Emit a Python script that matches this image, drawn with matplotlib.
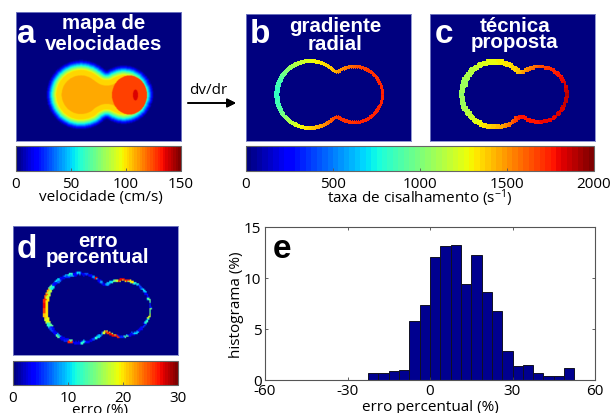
import numpy as np
import matplotlib
matplotlib.use("Agg")
import matplotlib.pyplot as plt
from matplotlib.cm import ScalarMappable
from matplotlib.colors import Normalize

W, H = 611, 414
plt.rcParams['font.family'] = ['Open Sans', 'DejaVu Sans']
plt.rcParams['mathtext.default'] = 'regular'
plt.rcParams['font.size'] = 11

# histogram (panel e)
hist_left = [-22.5, -18.75, -15, -11.25, -7.5, -3.75, 0, 3.75, 7.5, 11.25, 15, 18.75,
             22.5, 26.25, 30, 33.75, 37.5, 41.25, 45, 48.75]
hist_vals = [0.7, 0.7, 0.85, 1.0, 5.8, 7.4, 12.1, 13.1, 13.25, 9.4, 12.25, 8.6,
             6.8, 2.8, 1.35, 1.5, 0.7, 0.35, 0.35, 1.15]
hist_xticks = [-60, -30, 0, 30, 60]
hist_xlabels = ['-60', '-30', '0', '30', '60']
hist_yticks = [0, 5, 10, 15]

# velocity against distance from the wall (panel a)
wall_dist = [0, 1, 3, 5, 7, 9, 10, 15, 15.5, 60]
wall_vel = [0, 10, 30, 50, 72, 90, 101, 101, 110, 110]
jet_vel_red = 126
jet_vel_peak = 136

# shear along the wall, clockwise from the left side of the vessel
turn_pos = [0, 0.04, 0.08, 0.13, 0.2, 0.3, 0.4, 0.5, 0.6, 0.7, 0.8, 0.87, 0.92, 0.96, 1]
shear_b = [820, 860, 1000, 1150, 1300, 1430, 1680, 1750, 1730, 1680, 1420, 1250, 1040, 880, 820]
shear_c = [1060, 1080, 1130, 1230, 1300, 1400, 1700, 1880, 1790, 1750, 1450, 1320, 1180, 1090, 1060]
ring_b = [4.6, 4.6, 4.2, 3.8, 3.4, 3.0, 3.0, 3.0, 3.0, 3.0, 3.2, 3.6, 4.0, 4.4, 4.6]
ring_c = [6.0, 6.0, 5.6, 5.0, 4.4, 3.8, 3.6, 3.6, 3.6, 3.6, 4.0, 4.6, 5.2, 5.8, 6.0]
ring_d = [4.2, 4.2, 4.0, 3.2, 2.6, 2.4, 2.4, 2.6, 2.6, 2.4, 2.6, 3.0, 3.6, 4.0, 4.2]

# error along the wall, same direction, outer and inner edge of the ring
err_outer = [27, 26, 24, 22, 14, 5, 10, 3, 8, 12, 4, 10, 3, 6, 4, 8, 27, 4, 8, 3, 9, 10, 17, 27,
             26, 20, 12, 6, 10, 4, 14, 5, 14, 17, 12, 6, 4, 10, 3, 14, 5, 26, 27, 25, 18, 8, 10, 12,
             6, 3, 4, 12, 3, 4, 26, 5, 3, 14, 4, 6, 12, 18, 21, 25]
err_inner = [20, 20, 18, 17, 11, 4, 7, 3, 5, 8, 3, 7, 3, 4, 3, 5, 12, 3, 5, 3, 6, 7, 12, 18,
             18, 14, 8, 4, 7, 3, 9, 4, 16, 19, 9, 4, 3, 7, 3, 9, 4, 16, 18, 17, 12, 6, 7, 8,
             4, 3, 3, 8, 3, 3, 14, 4, 3, 9, 3, 4, 14, 19, 20, 20]

# lobes of the vessel, in pixels of each panel: left x, left r, right x, right r, mid y
lobes_a = (65, 35, 107.8, 29.7, 82.7)
lobes_b = (63.8, 35.5, 108.3, 29.7, 80.5)
lobes_c = (64.5, 35.5, 109, 29.7, 80.5)
lobes_d = (65.5, 36, 109, 29.5, 82)


def px_axes(x0, y0, x1, y1):
    return fig.add_axes([x0/W, 1-y1/H, (x1-x0)/W, (y1-y0)/H])


def wall_field(lobes, w, h, step):
    x1, r1, x2, r2, yc = lobes
    xx, yy = np.meshgrid(np.arange(step/2, w, step), np.arange(step/2, h, step))
    d1 = np.hypot(xx-x1, yy-yc)-r1
    d2 = np.hypot(xx-x2, yy-yc)-r2
    # soft min so the neck gets a rounded edge
    k = 3.0
    t = np.clip(0.5+0.5*(d2-d1)/k, 0, 1)
    f = d2*(1-t)+d1*t-k*t*(1-t)
    # real distance inside the union, min(d1,d2) is wrong near the neck
    near = np.abs(f) < max(step, 0.5)
    bx, by = xx[near][::2], yy[near][::2]
    dist = np.zeros(f.shape)
    for i in range(f.shape[0]):
        dist[i] = np.min(np.hypot(xx[i][:, None]-bx, yy[i][:, None]-by), axis=1)
    dist[f > 0] = -1
    # fraction of a clockwise turn starting from the left
    xc = (x1+x2)/2-5
    pos = (np.arctan2(-(yy-yc), -(xx-xc)))/(2*np.pi) % 1
    return xx, yy, dist, pos


def panel(x0, y0, x1, y1, img, lo, hi, interp='nearest'):
    ax = px_axes(x0, y0, x1, y1)
    ax.imshow(img, cmap=jet, vmin=lo, vmax=hi, extent=[0, x1-x0, y1-y0, 0],
              aspect='auto', interpolation=interp)
    ax.set_xticks([])
    ax.set_yticks([])
    for s in ax.spines.values():
        s.set_color('#7f86c8')
        s.set_linewidth(0.6)
    return ax


def titles(ax, letter, lx, ly, line1, cx1, y1, line2, cx2, y2):
    ax.text(lx, ly, letter, color='w', family='Liberation Sans', weight='bold', fontsize=24,
            ha='center', va='baseline')
    ax.text(cx1, y1, line1, color='w', family='Liberation Sans', weight='bold', fontsize=14.8,
            ha='center', va='baseline')
    ax.text(cx2, y2, line2, color='w', family='Liberation Sans', weight='bold', fontsize=14.8,
            ha='center', va='baseline')


def cbar(x0, y0, x1, y1, lo, hi, ticks, label, lx, ly):
    cax = px_axes(x0, y0, x1, y1)
    cb = fig.colorbar(ScalarMappable(Normalize(lo, hi), jet), cax=cax, orientation='horizontal')
    cb.set_ticks(ticks)
    cb.ax.tick_params(direction='in', length=2, width=0.6, color='#555555', pad=3.5, labelsize=11)
    cb.outline.set_edgecolor('#666666')
    cb.outline.set_linewidth(0.8)
    fig.text(lx/W, 1-ly/H, label, ha='center', va='center', fontsize=11)


jet = plt.get_cmap('jet', 64)
fig = plt.figure(figsize=(W/100, H/100), dpi=100)

# a - velocity map
xx, yy, dist, pos = wall_field(lobes_a, 166, 129, 0.5)
vel = np.interp(dist, wall_dist, wall_vel)
vel[((xx-113.5)/17.5)**2+((yy-83)/19.5)**2 < 1] = jet_vel_red
vel[((xx-119.5)/2.5)**2+((yy-83)/5.5)**2 < 1] = jet_vel_peak
vel[dist < 0] = 0
ax = panel(15.5, 13, 181, 142, vel, 0, 150, 'bilinear')
titles(ax, 'a', 11, 30, 'mapa de', 88, 16, 'velocidades', 88, 37)
cbar(15.5, 147, 181, 172, 0, 150, [0, 50, 100, 150], 'velocidade (cm/s)', 101, 198)

# b - radial gradient
xx, yy, dist, pos = wall_field(lobes_b, 165, 127, 1.0)
img = np.interp(pos, turn_pos, shear_b)
img[(dist < 0) | (dist > np.interp(pos, turn_pos, ring_b))] = 0
ax = panel(246, 15, 411, 142, img, 0, 2000, 'bilinear')
titles(ax, 'b', 14, 28, 'gradiente', 89, 17, 'radial', 89, 35)

# c - proposed technique, coarser pixels
xx, yy, dist, pos = wall_field(lobes_c, 165, 127, 1.3)
img = np.interp(pos, turn_pos, shear_c)
img[(dist < 0) | (dist > np.interp(pos, turn_pos, ring_c))] = 0
ax = panel(430, 15, 595, 142, img, 0, 2000)
titles(ax, 'c', 14, 28, 't\u00e9cnica', 85, 17, 'proposta', 85, 33)
cbar(246, 147, 594, 172, 0, 2000, [0, 500, 1000, 1500, 2000],
     'taxa de cisalhamento (s$^{-1}$)', 420, 198)

# d - percent error
xx, yy, dist, pos = wall_field(lobes_d, 165, 129, 1.3)
idx = (pos*len(err_outer)).astype(int) % len(err_outer)
img = np.where(dist < 1.6, np.array(err_outer)[idx], np.array(err_inner)[idx]).astype(float)
img[(dist < 0) | (dist > np.interp(pos, turn_pos, ring_d))] = 0
ax = panel(13, 227, 178, 356, img, 0, 30, 'bilinear')
titles(ax, 'd', 14, 31, 'erro', 85, 20, 'percentual', 85, 36)
cbar(13, 362, 178, 386, 0, 30, [0, 10, 20, 30], 'erro (%)', 100, 411)

# e - histogram
ax = px_axes(265, 228, 595, 381)
ax.bar(hist_left, hist_vals, width=3.75, align='edge', color='#00008f', edgecolor='#111122', linewidth=0.7)
ax.set_xlim(-60, 60)
ax.set_ylim(0, 15)
ax.set_xticks(hist_xticks, hist_xlabels)
ax.set_yticks(hist_yticks)
ax.tick_params(direction='in', length=2.5, width=0.6, top=True, right=True, pad=2.5, labelsize=11, color='#444444')
for s in ax.spines.values():
    s.set_color('#555555')
    s.set_linewidth(0.8)
fig.text(282/W, 1-258/H, 'e', family='Liberation Sans', weight='bold', fontsize=24, ha='center', va='baseline')
fig.text(430/W, 1-408/H, 'erro percentual (%)', ha='center', va='center', fontsize=11)
fig.text(237/W, 1-305/H, 'histograma (%)', ha='center', va='center', rotation=90, fontsize=11)

# arrow between a and b
fig.text(208/W, 1-91/H, 'dv/dr', ha='center', va='center', fontsize=11)
fig.add_artist(plt.annotate('', xy=(236/W, 1-104/H), xytext=(188/W, 1-104/H), xycoords='figure fraction',
                            arrowprops=dict(arrowstyle='-|>', color='k', lw=1.2, mutation_scale=13, shrinkA=0, shrinkB=0)))

fig.savefig('out.png', dpi=100)
